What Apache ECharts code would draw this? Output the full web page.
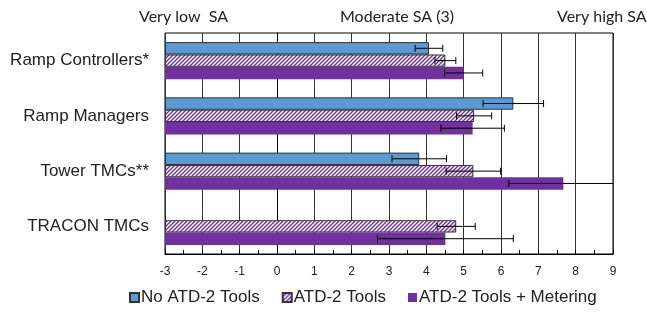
<!DOCTYPE html>
<html>
<head>
<meta charset="utf-8">
<script src="https://cdn.jsdelivr.net/npm/echarts@6/dist/echarts.min.js"></script>
<style>
html,body{margin:0;padding:0;background:#fff;}
#main{width:647px;height:316px;}
</style>
</head>
<body>
<div id="main"></div>
<script>
//数据
var categories = ['Ramp Controllers*', 'Ramp Managers', 'Tower TMCs**', 'TRACON TMCs'];
var seriesNames = ['No ATD-2 Tools', 'ATD-2 Tools', 'ATD-2 Tools + Metering'];
var noTools = [4.07, 6.33, 3.81, null];
var noToolsErr = [0.37, 0.81, 0.73, null];
var atdTools = [4.51, 5.28, 5.26, 4.80];
var atdToolsErr = [0.28, 0.47, 0.73, 0.51];
var metering = [5.00, 5.24, 7.67, 4.51];
var meteringErr = [0.51, 0.85, 1.46, 1.82];
var xTicks = [-3, 9, 1];
var topLabels = ['Very low  SA', 'Moderate SA (3)', 'Very high SA'];

var font = 'Lato, "Open Sans", sans-serif';
var arial = '"Liberation Sans", Arial, sans-serif';

//斜线填充
function hatch() {
	var c = document.createElement('canvas');
	c.width = 4; c.height = 4;
	var ctx = c.getContext('2d');
	ctx.fillStyle = '#fff';
	ctx.fillRect(0, 0, 4, 4);
	ctx.strokeStyle = '#7030A0';
	ctx.lineWidth = 1.4;
	ctx.beginPath();
	ctx.moveTo(-1, 5); ctx.lineTo(5, -1);
	ctx.moveTo(-3, 3); ctx.lineTo(3, -3);
	ctx.moveTo(1, 7); ctx.lineTo(7, 1);
	ctx.stroke();
	return c;
}

//误差线数据
var errData = [];
var vals = [noTools, atdTools, metering];
var errs = [noToolsErr, atdToolsErr, meteringErr];
for (var k = 0; k < 3; k++) {
	for (var i = 0; i < categories.length; i++) {
		if (vals[k][i] == null) continue;
		errData.push([vals[k][i], i, errs[k][i], k]);
	}
}

var gap = 0.33;
function renderErr(params, api) {
	var v = api.value(0), cat = api.value(1), e = api.value(2), k = api.value(3);
	var band = api.size([0, 1])[1];
	var bw = band * (1 - gap) / 3;
	var c = api.coord([v, cat]);
	var y = c[1] + (k - 1) * bw;
	var cs = params.coordSys;
	var x1 = Math.max(api.coord([v - e, cat])[0], cs.x);
	var x2 = Math.min(api.coord([v + e, cat])[0], cs.x + cs.width);
	var st = {stroke: '#000', lineWidth: 1};
	var kids = [{type: 'line', shape: {x1: x1, y1: y, x2: x2, y2: y}, style: st}];
	if (x1 > cs.x) kids.push({type: 'line', shape: {x1: x1, y1: y - 3.5, x2: x1, y2: y + 3.5}, style: st});
	if (x2 < cs.x + cs.width) kids.push({type: 'line', shape: {x1: x2, y1: y - 3.5, x2: x2, y2: y + 3.5}, style: st});
	return {type: 'group', children: kids};
}

var chart = echarts.init(document.getElementById('main'));
var option = {
	animation: false,
	grid: {left: 165, right: 34, top: 33, bottom: 62, show: true, borderColor: '#000', borderWidth: 1},
	legend: {
		data: seriesNames,
		bottom: 5,
		left: 124,
		itemWidth: 9,
		itemHeight: 9,
		itemGap: 22,
		icon: 'rect',
		textStyle: {fontFamily: arial, fontSize: 17, color: '#222', padding: [0, 0, 0, -3]}
	},
	xAxis: {
		type: 'value',
		min: xTicks[0], max: xTicks[1], interval: xTicks[2],
		startValue: xTicks[0],
		axisLine: {show: true, lineStyle: {color: '#000'}},
		axisTick: {show: true, inside: true, length: 4, lineStyle: {color: '#000'}},
		minorTick: {show: true, splitNumber: 2, length: 4, lineStyle: {color: '#000'}},
		splitLine: {show: true, lineStyle: {color: '#333', width: 1}},
		axisLabel: {fontFamily: arial, fontSize: 12, color: '#222', margin: 12}
	},
	yAxis: {
		type: 'category',
		data: categories,
		inverse: true,
		axisLine: {show: true, lineStyle: {color: '#000'}},
		axisTick: {show: false},
		axisLabel: {fontFamily: arial, fontSize: 17, color: '#222', margin: 16}
	},
	graphic: [
		{type: 'text', left: 139, top: 9, style: {text: topLabels[0], font: '16px ' + font, fill: '#222'}},
		{type: 'text', left: 340, top: 9, style: {text: topLabels[1], font: '16px ' + font, fill: '#222'}},
		{type: 'text', left: 557, top: 9, style: {text: topLabels[2], font: '16px ' + font, fill: '#222'}}
	],
	series: [
		{
			name: seriesNames[0], type: 'bar', data: noTools,
			barGap: 0, barCategoryGap: '33%',
			itemStyle: {color: '#5B9BD5', borderColor: '#333', borderWidth: 1}
		},
		{
			name: seriesNames[1], type: 'bar', data: atdTools,
			itemStyle: {color: {image: hatch(), repeat: 'repeat'}, borderColor: '#333', borderWidth: 1}
		},
		{
			name: seriesNames[2], type: 'bar', data: metering,
			itemStyle: {color: '#7030A0'}
		},
		{
			type: 'custom', name: 'err', data: errData,
			encode: {x: 0, y: 1},
			renderItem: renderErr, z: 10, silent: true
		}
	]
};
chart.setOption(option);
</script>
</body>
</html>
